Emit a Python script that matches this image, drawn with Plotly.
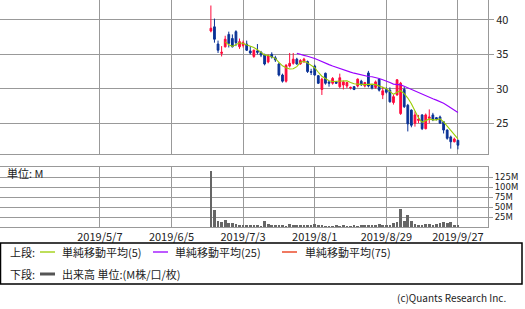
import plotly.graph_objects as go
import pandas as pd

# trading-session index counted from 2019/5/7 (= 0)
session = list(range(31, 101))

open_ = [38.4, 39.0, 36.5, 35.15, 36.1, 37.9, 37.3, 38.3, 36.1, 36.3,
         36.5, 35.5, 34.7, 35.5, 35.3, 34.9, 33.9, 35.0, 34.5, 33.6,
         32.0, 31.1, 33.3, 33.7, 34.3, 33.6, 33.9, 33.95, 32.5, 33.3,
         31.9, 29.9, 32.25, 31.0, 30.8, 31.0, 30.3, 30.55, 30.4, 30.1,
         30.3, 30.4, 31.1, 30.4, 32.3, 30.55, 30.2, 31.4, 29.1, 29.9,
         29.8, 28.0, 29.1, 26.4, 29.9, 27.6, 26.9, 25.0, 25.4, 26.2,
         24.2, 25.7, 26.2, 25.8, 25.9, 25.2, 24.0, 23.0, 22.3, 22.5]
high = [42.1, 40.2, 37.0, 36.2, 37.7, 38.3, 37.9, 38.5, 37.3, 37.0,
        37.0, 36.2, 35.7, 36.5, 35.5, 35.1, 35.0, 35.3, 34.8, 33.8,
        32.2, 33.6, 35.2, 35.2, 34.5, 34.3, 34.5, 34.1, 32.9, 33.5,
        32.0, 31.6, 32.35, 31.1, 31.7, 31.1, 32.2, 31.2, 31.0, 30.3,
        30.4, 31.5, 31.3, 31.0, 32.6, 30.6, 31.2, 31.5, 30.3, 30.2,
        30.2, 29.1, 31.4, 31.0, 30.3, 27.8, 27.0, 26.7, 26.2, 26.3,
        26.4, 27.0, 26.5, 25.9, 26.1, 25.3, 24.1, 23.2, 22.9, 22.6]
low = [38.2, 36.7, 35.2, 34.7, 36.0, 36.0, 36.0, 36.2, 35.8, 36.0,
       35.5, 35.0, 34.5, 35.0, 34.6, 33.4, 33.7, 34.4, 33.9, 31.8,
       30.9, 30.9, 33.1, 33.5, 33.5, 33.5, 33.8, 32.3, 32.0, 31.9,
       30.7, 29.1, 30.6, 30.3, 30.6, 30.7, 30.1, 29.9, 30.1, 29.9,
       29.8, 30.2, 30.4, 30.2, 30.2, 29.9, 30.0, 29.6, 28.5, 29.3,
       28.0, 27.7, 29.0, 26.2, 27.2, 23.8, 24.4, 24.5, 25.0, 24.0,
       24.1, 25.0, 25.3, 25.4, 24.9, 23.5, 22.6, 21.3, 22.2, 21.2]
close = [38.8, 37.2, 35.6, 35.3, 37.2, 36.6, 36.1, 36.7, 36.85, 36.7,
         35.6, 35.2, 35.6, 35.3, 34.9, 33.6, 34.8, 34.6, 34.2, 32.0,
         31.1, 33.4, 33.7, 34.3, 33.6, 34.1, 34.3, 32.5, 32.4, 32.0,
         30.8, 31.4, 30.8, 30.8, 31.5, 30.8, 31.6, 31.0, 30.9, 30.2,
         29.9, 31.4, 30.6, 30.9, 30.4, 30.1, 31.0, 29.8, 29.7, 29.5,
         28.1, 28.85, 31.3, 30.8, 27.4, 24.9, 24.7, 26.2, 25.6, 24.2,
         26.2, 25.9, 25.5, 25.6, 25.0, 24.0, 22.8, 22.3, 22.7, 21.8]
volume_m = [139, 43, 15.6, 12.3, 18, 10.7, 9, 7.4, 4.1, 3.3,
            3.3, 4.9, 4.1, 5.7, 1.6, 15.6, 8.2, 5.7, 3.3, 5.7,
            5.7, 2.5, 8.2, 4.1, 4.1, 3.3, 4.9, 4.1, 4.9, 6.6,
            5.7, 4.9, 2.5, 1.6, 2.5, 3.3, 1.6, 3.3, 2.5, 1.6,
            3.3, 1.6, 4.9, 4.1, 5.7, 3.3, 4.9, 6.6, 3.3, 4.1,
            4.9, 9.8, 13, 45, 16, 30, 14, 7, 5, 4.9,
            7.4, 7.4, 5.7, 7.4, 10.7, 12.3, 9, 12.3, 5.7, 3.3]

tick_pos = [0, 20, 40, 60, 80, 100]
tick_labels = ["2019/5/7", "2019/6/5", "2019/7/3", "2019/8/1", "2019/8/29", "2019/9/27"]
price_ticks = [25, 30, 35, 40]
vol_ticks = [25, 50, 75, 100, 125]

ma5 = pd.Series(close).rolling(5).mean()
ma25 = pd.Series(close).rolling(25).mean()
ma75 = pd.Series(close).rolling(75).mean()

RED = "#ff0a3c"
BLUE = "#0a3296"
C_MA5 = "#99cc00"
C_MA25 = "#9900ff"
C_MA75 = "#e8300c"
GRID = "#999999"
FONT = "Noto Sans CJK JP"

fig = go.Figure()
fig.add_trace(go.Candlestick(
    x=session, open=open_, high=high, low=low, close=close,
    increasing=dict(line=dict(color=RED, width=1), fillcolor=RED),
    decreasing=dict(line=dict(color=BLUE, width=1), fillcolor=BLUE),
    whiskerwidth=0, xaxis="x", yaxis="y", showlegend=False))
fig.add_trace(go.Scatter(x=session, y=ma5, mode="lines",
                         line=dict(color=C_MA5, width=1.1), xaxis="x", yaxis="y", showlegend=False))
fig.add_trace(go.Scatter(x=session, y=ma25, mode="lines",
                         line=dict(color=C_MA25, width=1.1), xaxis="x", yaxis="y", showlegend=False))
fig.add_trace(go.Scatter(x=session, y=ma75, mode="lines",
                         line=dict(color=C_MA75, width=1.1), xaxis="x", yaxis="y", showlegend=False))
fig.add_trace(go.Bar(x=session, y=volume_m, width=0.75, marker=dict(color="#666666", line=dict(width=0)),
                     xaxis="x2", yaxis="y2", showlegend=False))

XR = [-27.9, 108.4]
W_PLOT = 488.0
H_PLOT = 227.0

def px(x):
    return x / W_PLOT

def py(y):
    return (H_PLOT - y) / H_PLOT

axis_common = dict(showgrid=True, gridcolor=GRID, gridwidth=1, showline=True, mirror=True,
                   linecolor=GRID, linewidth=1, zeroline=False)

fig.update_layout(
    width=525, height=309,
    margin=dict(l=0, r=37, t=0, b=82),
    paper_bgcolor="white", plot_bgcolor="white",
    font=dict(family=FONT, size=11, color="#222222"),
    bargap=0,
    xaxis=dict(domain=[0, 1], anchor="y", range=XR, tickvals=tick_pos, showticklabels=False,
               ticks="", rangeslider=dict(visible=False), **axis_common),
    yaxis=dict(domain=[py(154), 1], anchor="x", range=[20.52, 42.9], side="right",
               tickvals=price_ticks, ticks="outside", ticklen=5, tickcolor=GRID,
               tickfont=dict(size=11, color="#222222"), **axis_common),
    xaxis2=dict(domain=[0, 1], anchor="y2", range=XR, tickvals=tick_pos, ticktext=tick_labels,
                ticks="", tickfont=dict(size=11, color="#222222"), **axis_common),
    yaxis2=dict(domain=[0, py(167)], anchor="x2", range=[0, 150], side="right",
                tickvals=vol_ticks, ticktext=[f"{v}M" for v in vol_ticks],
                ticks="outside", ticklen=4, tickcolor=GRID,
                tickfont=dict(family="DejaVu Sans", size=8.5, color="#222222"), **axis_common),
)

ann = []
def text(x, y, s, anchor="left", size=11):
    ann.append(dict(x=px(x), y=py(y), xref="paper", yref="paper", text=s, showarrow=False,
                    xanchor=anchor, yanchor="middle", font=dict(family=FONT, size=size, color="#222222")))

text(5, 173, "単位: M")
text(8, 252, "上段:")
text(60, 252, "単純移動平均(5)")
text(173, 252, "単純移動平均(25)")
text(303, 252, "単純移動平均(75)")
text(8, 274, "下段:")
text(60, 274, "出来高 単位:(M株/口/枚)")
text(508, 297, "(c)Quants Research Inc.", anchor="right", size=10)
fig.update_layout(annotations=ann)

shapes = [
    dict(type="rect", xref="paper", yref="paper", x0=px(0.5), x1=px(522), y0=py(284), y1=py(243),
         line=dict(color="black", width=1.5), fillcolor="rgba(0,0,0,0)"),
    dict(type="line", xref="paper", yref="paper", x0=px(40), x1=px(55), y0=py(252), y1=py(252),
         line=dict(color=C_MA5, width=1.3)),
    dict(type="line", xref="paper", yref="paper", x0=px(153), x1=px(168), y0=py(252), y1=py(252),
         line=dict(color=C_MA25, width=1.3)),
    dict(type="line", xref="paper", yref="paper", x0=px(282), x1=px(297), y0=py(252), y1=py(252),
         line=dict(color=C_MA75, width=1.3)),
    dict(type="line", xref="paper", yref="paper", x0=px(40), x1=px(55), y0=py(274), y1=py(274),
         line=dict(color="#555555", width=3)),
]
fig.update_layout(shapes=shapes)

fig.write_html("out.html")
